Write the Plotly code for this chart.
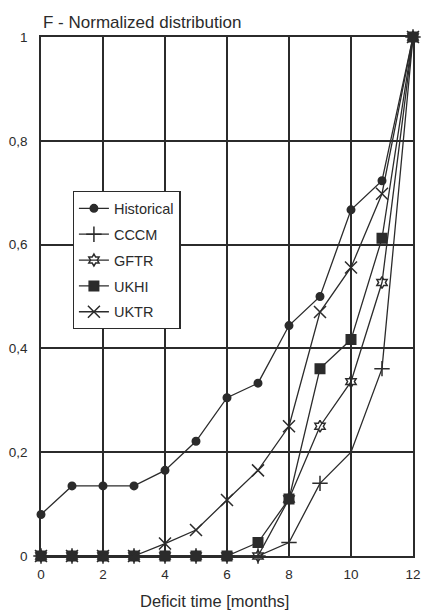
import plotly.graph_objects as go

months = list(range(13))
historical = [0.08, 0.135, 0.135, 0.135, 0.165, 0.221, 0.305, 0.333, 0.444, 0.50, 0.667, 0.723, 1.0]
cccm = [0, 0, 0, 0, 0, 0, 0, 0, 0.026, 0.14, 0.20, 0.361, 1.0]
gftr = [0, 0, 0, 0, 0, 0, 0, 0, 0.11, 0.25, 0.336, 0.527, 1.0]
ukhi = [0, 0, 0, 0, 0, 0, 0, 0.026, 0.11, 0.361, 0.417, 0.612, 1.0]
uktr = [0, 0, 0, 0, 0.024, 0.05, 0.108, 0.165, 0.25, 0.47, 0.556, 0.698, 1.0]

series = [
    ("Historical", historical, "circle", 7.5),
    ("CCCM", cccm, "cross-thin-open", 11),
    ("GFTR", gftr, "hexagram-open", 9),
    ("UKHI", ukhi, "square", 9.5),
    ("UKTR", uktr, "x-thin-open", 12),
]

ink = "#2b2b2b"
font = "Liberation Sans, Arial, sans-serif"

fig = go.Figure()
for name, vals, sym, sz in series:
    fig.add_trace(go.Scatter(
        x=months, y=vals, name=name, mode="lines+markers",
        legendgroup=name,
        line=dict(color=ink, width=1.3),
        marker=dict(symbol=sym, size=sz, color=ink, line=dict(color=ink, width=1.5)),
        cliponaxis=False,
    ))

axis_common = dict(
    showgrid=True, gridcolor=ink, gridwidth=1.5,
    showline=True, linecolor=ink, linewidth=1.5, mirror=True,
    zeroline=False, ticks="", tickfont=dict(family=font, size=13.5, color=ink),
)

fig.update_layout(
    width=430, height=611,
    margin=dict(l=41, r=9, t=37, b=55),
    paper_bgcolor="white", plot_bgcolor="white",
    separators=",.",
    font=dict(family=font, color=ink),
    xaxis=dict(range=[0, 12], tickvals=[0, 2, 4, 6, 8, 10, 12], ticklabelstandoff=5, **axis_common),
    yaxis=dict(range=[0, 1], tickvals=[0, 0.2, 0.4, 0.6, 0.8, 1], ticklabelstandoff=9, **axis_common),
    legend=dict(
        x=0.085, y=0.703, xanchor="left", yanchor="top",
        bgcolor="white", bordercolor=ink, borderwidth=1.3,
        font=dict(family=font, size=14.5, color=ink),
        tracegroupgap=4, itemwidth=30,
    ),
    showlegend=True,
    annotations=[
        dict(text="F - Normalized distribution", xref="paper", yref="paper", x=0, y=1,
             xanchor="left", yanchor="bottom", yshift=3, showarrow=False,
             font=dict(family=font, size=17, color=ink)),
        dict(text="Deficit time [months]", xref="paper", yref="paper", x=0.467, y=0,
             xanchor="center", yanchor="top", yshift=-34, showarrow=False,
             font=dict(family=font, size=16.5, color=ink)),
    ],
)

fig.write_html("out.html")
